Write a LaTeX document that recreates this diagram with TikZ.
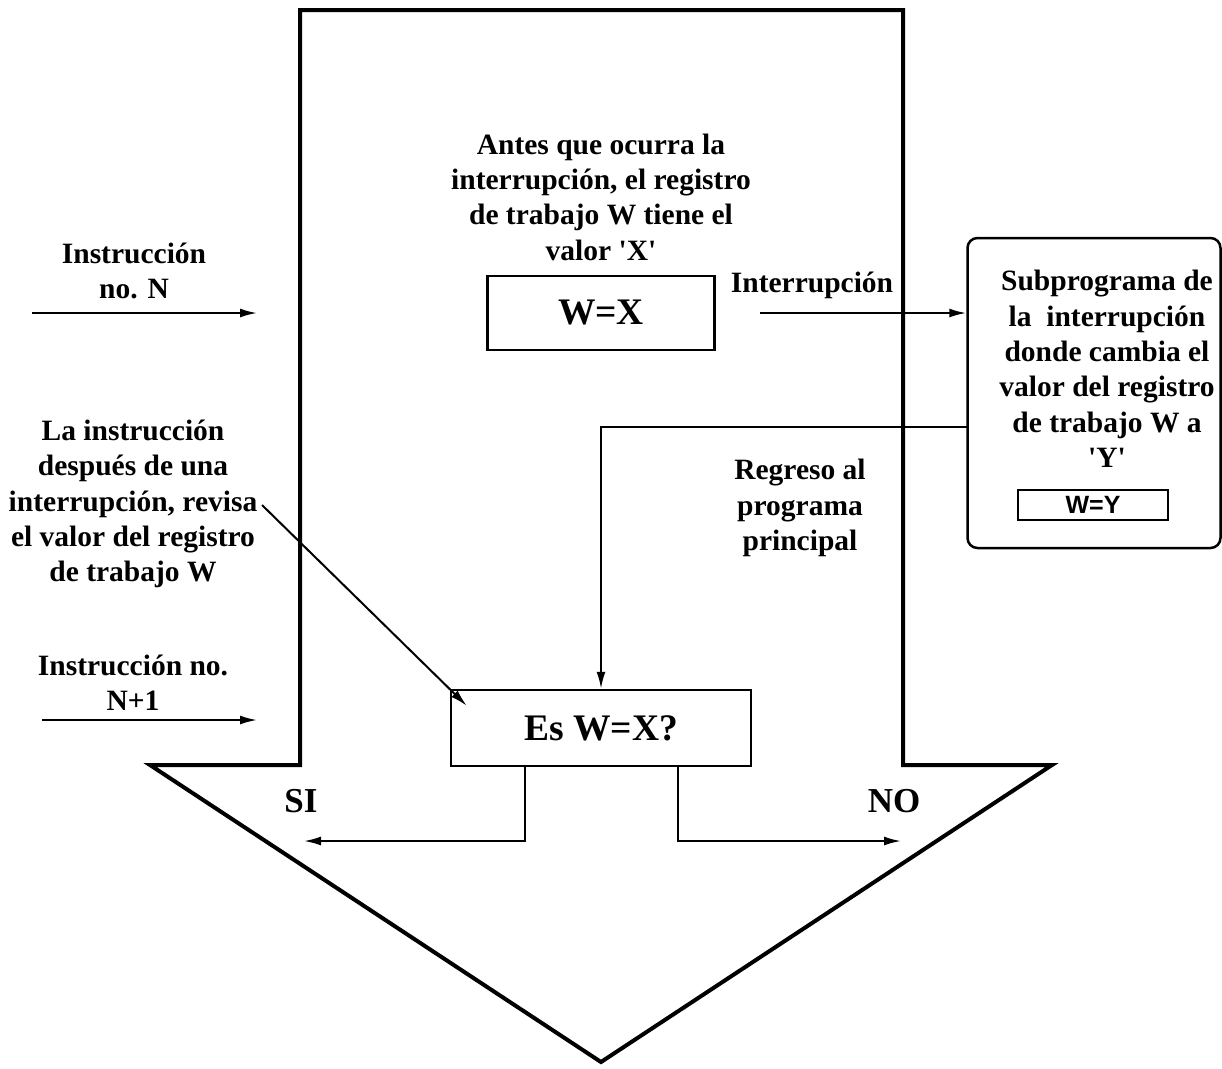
\documentclass[tikz,border=0pt]{standalone}
\usepackage{fontspec}
\setmainfont{Liberation Serif}
\newfontfamily\arialfont{Liberation Sans}
\newfontfamily\tnrplain{Liberation Serif}[Ligatures=ResetAll]
\usetikzlibrary{arrows.meta,calc}
\newcommand{\sq}{{\tnrplain\bfseries\symbol{"27}}}
\begin{document}
\begin{tikzpicture}[x=1pt,y=-1pt,
  txt/.style={align=center,font=\fontsize{29.5}{35.3}\selectfont\bfseries,inner sep=0pt},
  boxa/.style={draw,line width=2.5pt,inner sep=0pt},
  arr/.style={line width=2pt,-{Latex[length=17pt,width=9pt]}},
  plain/.style={line width=2pt}]
\useasboundingbox (0,0) rectangle (1222,1068);
% big arrow outline
\draw[line width=4pt,line join=miter] (300,10) -- (903,10) -- (903,765) -- (1052,765) -- (601,1062) -- (150,765) -- (300,765) -- cycle;
% boxes
\node[boxa,minimum width=300pt,minimum height=76pt] (esbox) at (601,728) {\fontsize{37.5}{42}\selectfont\bfseries Es W=X?};
\node[boxa,minimum width=227pt,minimum height=74pt] (wxbox) at (601,313) {\fontsize{37.5}{42}\selectfont\bfseries W=X};
\node[draw,line width=2.5pt,rounded corners=10pt,minimum width=253pt,minimum height=310pt] (subbox) at (1094,393) {};
\node[boxa,line width=2pt,minimum width=150pt,minimum height=30pt] (wybox) at (1093,505) {\arialfont\fontsize{25}{28}\selectfont\bfseries W=Y};
% texts
\node[txt] (antes) at (601,197) {Antes que ocurra la\\interrupción, el registro\\de trabajo W tiene el\\valor \sq X\sq};
\node[txt] (instrN) at (134,271) {Instrucción\\no. N};
\node[txt] (interr) at (812,285) {Interrupción};
\node[txt] (subtxt) at (1107,369) {Subprograma de\\la \ interrupción\\donde cambia el\\valor del registro\\de trabajo W a\\\sq Y\sq};
\node[txt] (regreso) at (800,508) {Regreso al\\programa\\principal};
\node[txt] (lainstr) at (133,504) {La instrucción\\después de una\\interrupción, revisa\\el valor del registro\\de trabajo W};
\node[txt] (instrN1) at (133,683) {Instrucción no.\\N+1};
\node[txt,font=\fontsize{35}{38}\selectfont\bfseries] (si) at (301,801) {SI};
\node[txt,font=\fontsize{35}{38}\selectfont\bfseries] (no) at (894,801) {NO};
% coordinates
\coordinate (nA) at (32,313);
\coordinate (nB) at (257,313);
\coordinate (n1A) at (42,720);
\coordinate (n1B) at (257,720);
\coordinate (intA) at (760,313);
\coordinate (ret) at (967,427);
\coordinate (diagA) at (262,505);
\coordinate (siend) at (304,841);
\coordinate (noend) at (901,841);
% connectors
\draw[arr] (nA) -- (nB);
\draw[arr] (n1A) -- (n1B);
\draw[arr] (intA) -- (intA -| subbox.west);
\draw[arr] (ret) -| (esbox.north);
\draw[arr] (diagA) -- ([shift={(17,17)}]esbox.north west);
\draw[arr] (esbox.south -| 525,0) |- (siend);
\draw[arr] (esbox.south -| 678,0) |- (noend);
\end{tikzpicture}
\end{document}
